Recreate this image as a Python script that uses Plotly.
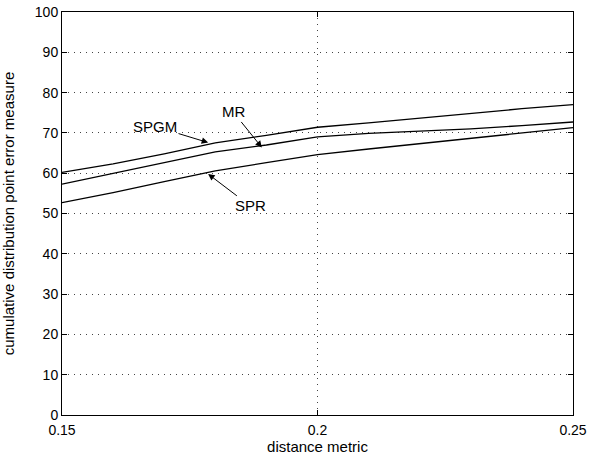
import plotly.graph_objects as go

x_vals = [0.15, 0.16, 0.17, 0.18, 0.19, 0.20, 0.21, 0.22, 0.23, 0.24, 0.25]
spgm = [60.2, 62.3, 64.8, 67.5, 69.4, 71.4, 72.5, 73.7, 74.8, 76.0, 77.0]
mr = [57.3, 60.0, 62.7, 65.3, 67.0, 69.0, 69.9, 70.4, 71.0, 71.8, 72.7]
spr = [52.7, 55.2, 57.9, 60.6, 62.6, 64.6, 66.0, 67.3, 68.6, 70.0, 71.3]

x_ticks = [0.15, 0.2, 0.25]
x_tick_text = ["0.15", "0.2", "0.25"]
y_ticks = list(range(0, 101, 10))

labels = ["SPGM", "MR", "SPR"]
label_pos = [(0.1682, 71.6), (0.1835, 75.2), (0.1868, 51.9)]
arrow_tip = [(0.1786, 67.6), (0.1891, 66.4), (0.1786, 59.8)]

font_family = "Liberation Sans, Arial, Helvetica, sans-serif"

fig = go.Figure()
for name, ys in zip(labels, [spgm, mr, spr]):
    fig.add_trace(go.Scatter(x=x_vals, y=ys, mode="lines", name=name,
                             line=dict(color="black", width=1.3),
                             showlegend=False, hoverinfo="skip"))

for name, (tx, ty), (hx, hy) in zip(labels, label_pos, arrow_tip):
    fig.add_annotation(x=hx, y=hy, ax=tx, ay=ty, xref="x", yref="y",
                       axref="x", ayref="y", text=name, showarrow=True,
                       arrowhead=2, arrowsize=1.3, arrowwidth=1,
                       arrowcolor="black",
                       font=dict(family=font_family, size=15, color="black"))

axis_common = dict(showline=True, linecolor="black", linewidth=1, mirror="ticks",
                   ticks="inside", ticklen=5, tickcolor="black",
                   showgrid=True, gridcolor="#444", gridwidth=1, griddash="1px,5px",
                   zeroline=False, automargin=False, ticklabeloverflow="allow",
                   tickfont=dict(family=font_family, size=14, color="black"))

fig.update_xaxes(range=[0.15, 0.25], tickvals=x_ticks, ticktext=x_tick_text,
                 ticklabelstandoff=2,
                 title=dict(text="distance metric", standoff=4,
                            font=dict(family=font_family, size=15, color="black")),
                 **axis_common)
fig.update_yaxes(range=[0, 100], tickvals=y_ticks,
                 title=dict(text="cumulative distribution point error measure", standoff=17,
                            font=dict(family=font_family, size=15, color="black")),
                 **axis_common)

fig.update_layout(width=589, height=459,
                  margin=dict(l=62, r=16, t=12, b=44),
                  plot_bgcolor="white", paper_bgcolor="white",
                  font=dict(family=font_family, size=14, color="black"))

fig.write_html("out.html", config={"displayModeBar": False},
               post_script="document.body.style.margin='0';document.body.style.overflow='hidden';")
